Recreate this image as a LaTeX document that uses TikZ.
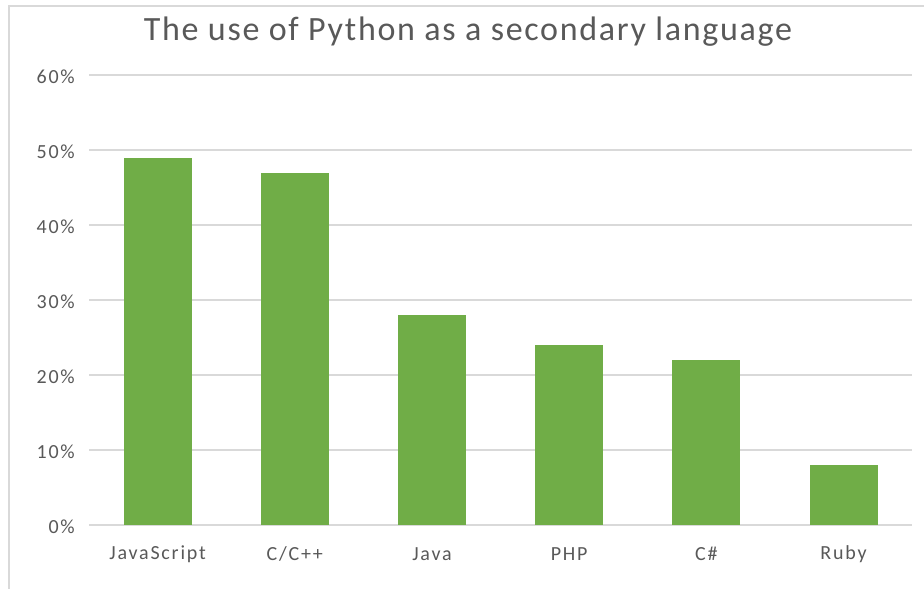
\documentclass[tikz,border=0pt]{standalone}
\usepackage{fontspec}
\setmainfont{Carlito}
\newfontfamily\axisfont[LetterSpace=9]{Carlito}
\newfontfamily\titlefont[LetterSpace=5]{Carlito}
\definecolor{bargreen}{HTML}{70AD47}
\definecolor{labelgray}{HTML}{595959}
\definecolor{gridgray}{HTML}{D9D9D9}
\definecolor{framegray}{HTML}{D9D9D9}
\tikzset{
  gridline/.style={draw=gridgray, line width=1.2pt},
  framebox/.style={draw=framegray, line width=1.2pt},
  ticklabel/.style={anchor=east, inner sep=0pt, text=labelgray, font=\axisfont\fontsize{20}{20}\selectfont},
  catlabel/.style={anchor=center, inner sep=0pt, text=labelgray, font=\axisfont\fontsize{20}{20}\selectfont},
  barfill/.style={fill=bargreen},
  charttitle/.style={anchor=center, inner sep=0pt, text=labelgray, font=\titlefont\fontsize{34}{34}\selectfont}
}
\begin{document}
\begin{tikzpicture}[x=1pt,y=-1pt]
  \useasboundingbox (0,0) rectangle (924,589);
  \fill[white] (0,0) rectangle (924,589);
  % chart frame (top and left edges)
  \draw[framebox] (9,589) -- (9,6) -- (924,6);
  % title
  \node[charttitle] (title) at (468,32) {The use of Python as a secondary language};
  % horizontal grid lines with percentage labels
  \foreach \i in {0,...,6} {
    \pgfmathsetmacro{\yy}{525-75*\i}
    \draw[gridline] (89,\yy) -- (912,\yy);
    \node[ticklabel] (tick\i) at (75,\yy+1.5) {\the\numexpr\i*10\relax\%};
  }
  % bars
  \foreach \k/\v/\name in {0/49/JavaScript,1/47/{C/C++},2/28/Java,3/24/PHP,4/22/C\#,5/8/Ruby} {
    \pgfmathsetmacro{\cx}{157.6+137.2*\k}
    \fill[barfill] (\cx-34,525) rectangle (\cx+34,525-7.5*\v);
    \node[catlabel] (cat\k) at (\cx,554) {\name};
  }
\end{tikzpicture}
\end{document}
